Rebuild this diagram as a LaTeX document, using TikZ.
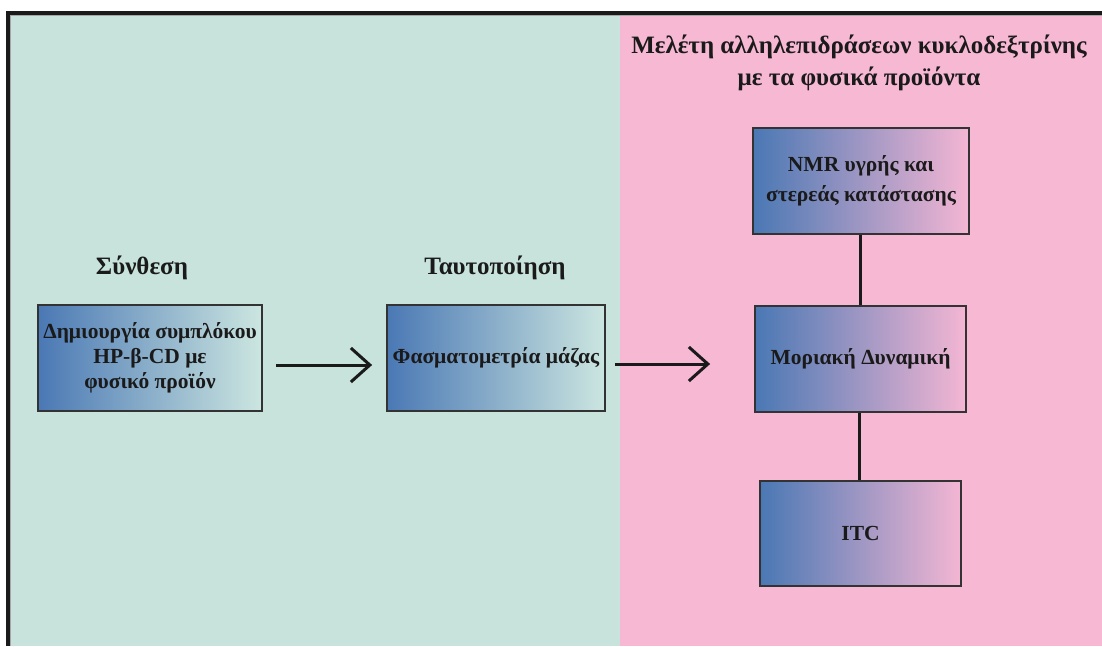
\documentclass[tikz,border=0pt]{standalone}
\usepackage{fontspec}
\setmainfont{Liberation Serif}
\usetikzlibrary{arrows.meta}
\definecolor{bggreen}{HTML}{C7E3DC}
\definecolor{bgpink}{HTML}{F7B8D3}
\definecolor{boxblue}{HTML}{4A78B4}
\definecolor{boxgreen}{HTML}{CCE6E0}
\definecolor{boxpink}{HTML}{F4B6D3}
\definecolor{framecol}{HTML}{1A1A1A}
\definecolor{boxline}{HTML}{333333}
\begin{document}
\begin{tikzpicture}[x=1pt,y=-1pt,
  basebox/.style={draw=boxline, line width=1.8pt, inner sep=0pt, align=center,
    font=\fontsize{21.5}{25}\selectfont\bfseries, text=framecol},
  greenbox/.style={basebox, left color=boxblue, right color=boxgreen},
  pinkbox/.style={basebox, left color=boxblue, right color=boxpink},
  heading/.style={font=\fontsize{25}{30}\selectfont\bfseries, text=framecol, inner sep=0pt},
  flowarrow/.style={draw=framecol, line width=3pt, -{Straight Barb[length=19pt,width=34pt,line width=3pt]}},
  linkline/.style={draw=framecol, line width=3pt}]
\useasboundingbox (0,0) rectangle (1102,646);
% backgrounds
\fill[bggreen] (10,15) rectangle (620,646);
\fill[bgpink] (620,15) rectangle (1102,646);
% frame
\fill[framecol] (6,11) rectangle (1102,15);
\fill[framecol] (6,11) rectangle (10,646);
\draw[gray!70, line width=0.8pt] (10.4,646) -- (10.4,15.4) -- (1102,15.4);
% headings
\node[heading] (hsyn) at (142,268) {Σύνθεση};
\node[heading] (htaut) at (495,268) {Ταυτοποίηση};
\node[heading, align=center, font=\fontsize{25}{32}\selectfont\bfseries] (htitle) at (859,62.5)
  {Μελέτη αλληλεπιδράσεων κυκλοδεξτρίνης\\με τα φυσικά προϊόντα};
% boxes
\node[greenbox, minimum width=224pt, minimum height=106pt] (b1) at (150,358)
  {Δημιουργία συμπλόκου\\HP-β-CD με\\φυσικό προϊόν};
\node[greenbox, minimum width=218pt, minimum height=106pt] (b2) at (496,358)
  {Φασματομετρία μάζας};
\node[pinkbox, minimum width=216pt, minimum height=106pt, font=\fontsize{21.5}{30}\selectfont\bfseries] (nmr) at (861,181)
  {NMR υγρής και\\στερεάς κατάστασης};
\node[pinkbox, minimum width=211pt, minimum height=106pt] (md) at (860.5,359)
  {Μοριακή Δυναμική};
\node[pinkbox, minimum width=201pt, minimum height=105pt] (itc) at (860.5,533.5)
  {ITC};
% connectors
\draw[flowarrow, shorten <=13pt, shorten >=14pt] ([yshift=-7pt]b1.east) -- ([yshift=-7pt]b2.west);
\draw[flowarrow, shorten <=9pt, shorten >=44pt] ([yshift=-6pt]b2.east) -- ([yshift=-6pt]b2.east -| md.west);
\draw[linkline] ([xshift=-1pt]nmr.south) -- ([xshift=-1pt]nmr.south |- md.north);
\draw[linkline] ([xshift=-1pt]md.south) -- ([xshift=-1pt]md.south |- itc.north);
\end{tikzpicture}
\end{document}
